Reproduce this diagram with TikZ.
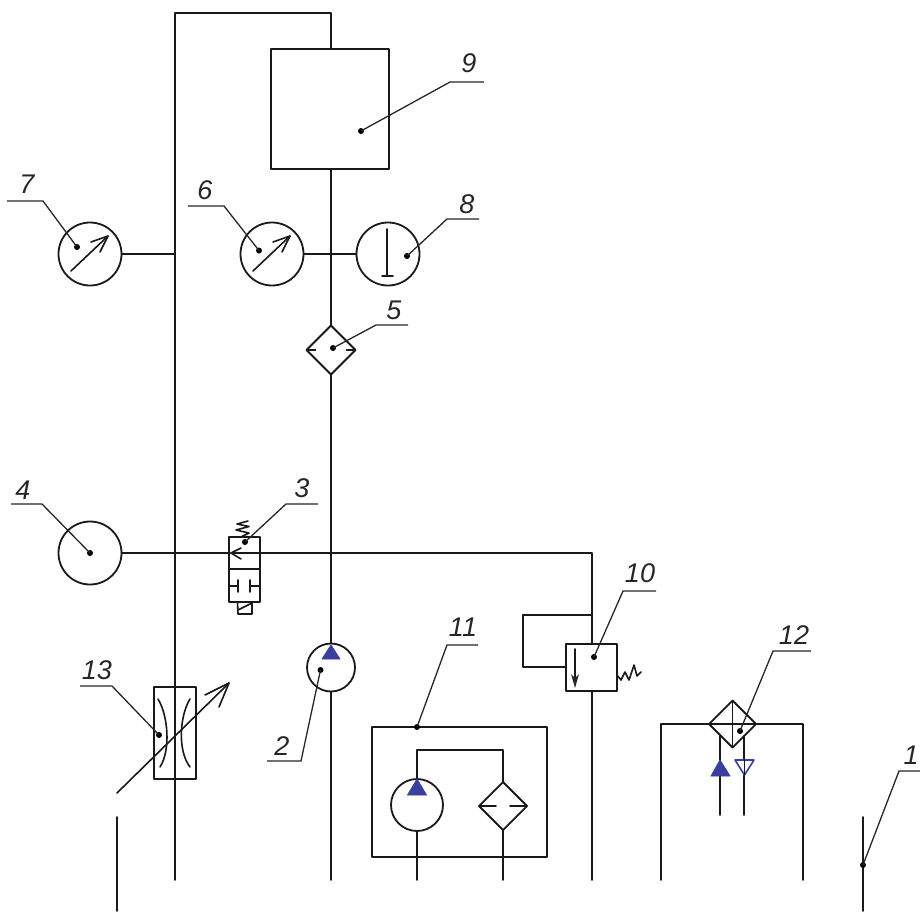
\documentclass[tikz,border=0pt]{standalone}
\usepackage{fontspec}
\setmainfont{Liberation Sans}
\usetikzlibrary{shapes.geometric,calc}
\definecolor{pumpblue}{HTML}{3A3F9E}
\tikzset{
  line/.style={draw=black!90,line width=1.8pt,line cap=round,line join=round},
  thinl/.style={draw=black!90,line width=1.6pt,line cap=round,line join=round},
  lead/.style={draw=black!85,line width=1.3pt},
  ring/.style={circle,line,minimum size=#1,inner sep=0pt,outer sep=0pt},
  diam/.style={diamond,line,aspect=1,minimum size=#1,inner sep=0pt,outer sep=0pt},
  rbox/.style={rectangle,line,inner sep=0pt,outer sep=0pt},
  blob/.style={circle,fill=black,minimum size=6pt,inner sep=0pt,outer sep=0pt},
  num/.style={font=\fontsize{27}{27}\selectfont\itshape,text=black!85,inner sep=0pt,anchor=center},
  tri/.style={fill=pumpblue,draw=pumpblue,line width=.8pt,line join=round},
  trio/.style={fill=white,draw=pumpblue,line width=1.6pt,line join=round}
}
\newcommand{\tag}[6]{%
  \node[blob] (d#1) at (#2) {};
  \coordinate (k#1) at (#3);
  \coordinate (e#1) at (#4);
  \draw[lead] (d#1.center) -- (k#1) -- (e#1);
  \node[num] (t#1) at (#5) {#6};}
\newcommand{\gaugearrow}[3]{%
  \coordinate (a#1) at (#2);
  \coordinate (b#1) at (#3);
  \draw[thinl] (a#1) -- (b#1);
  \draw[thinl] ($(b#1)+(-17,6)$) -- (b#1) -- ($(b#1)+(-8,16)$);}
\begin{document}
\begin{tikzpicture}[x=1pt,y=-1pt]
\useasboundingbox (0,0) rectangle (920,911);
% main elements
\node[rbox,minimum width=118pt,minimum height=120pt] (n9) at (330,109) {};
\node[ring=63pt] (n7) at (90,254) {};
\node[ring=63pt] (n6) at (272,254) {};
\node[ring=63pt] (n8) at (388,254) {};
\node[ring=63pt] (n4) at (90,553) {};
\node[diam=49pt] (n5) at (331,350) {};
\node[ring=48pt] (n2) at (331,667.5) {};
\node[rbox,minimum width=31pt,minimum height=65pt] (n3) at (244.5,569.5) {};
\node[rbox,minimum width=51pt,minimum height=47pt] (n10) at (591.5,667.5) {};
\node[rbox,minimum width=175pt,minimum height=130pt] (n11) at (459.5,792) {};
\node[ring=52pt] (p11) at (417,805) {};
\node[diam=48pt] (f11) at (503,806) {};
\node[diam=47pt] (n12) at (732.5,724) {};
\node[rbox,minimum width=42pt,minimum height=92pt] (n13) at (175,733) {};
% free ends and junctions
\coordinate (top1) at (175,13);
\coordinate (top2) at (331,13);
\coordinate (bL) at (175,880);
\coordinate (bM) at (331,880);
\coordinate (bR) at (592,880);
\coordinate (j7) at (175,254);
\coordinate (jl) at (175,553);
\coordinate (jr) at (592,553);
% pipes
\draw[line] (bL) -- (top1) -- (top2) -- (n9.north -| top2);
\draw[line] (n9.south -| top2) -- (n5.north);
\draw[line] (n5.south) -- (n2.north);
\draw[line] (n2.south) -- (bM);
\draw[line] (n7.east) -- (j7);
\draw[line] (n6.east) -- (n8.west);
\draw[line] (n4.east) -- (n3.west |- jl);
\draw[line] (n3.east |- jl) -- (jr) -- (n10.north -| jr);
\draw[line] (n10.south -| jr) -- (bR);
\draw[line] (592,615) -- (523,615) -- (523,667) -- (n10.west |- 0,667);
% gauges
\gaugearrow{7}{71,271}{108,236}
\gaugearrow{6}{253,271}{290,236}
\draw[thinl] (387,229) -- (387,276) (382,276) -- (393,276);
% filter 5
\draw[thinl] (n5.west) -- ++(9,0) (n5.east) -- ++(-9,0);
% pump 2
\fill[tri] (331,645) -- (340,659) -- (322,659) -- cycle;
% valve 3
\draw[thinl] (229,569) -- (260,569);
\draw[thinl] (241,548) -- (231,553) -- (241,559);
\draw[thinl] (231,553) -- (260,553);
\draw[thinl] (229,586) -- (238,586) (238,580) -- (238,592);
\draw[thinl] (260,586) -- (250,586) (250,580) -- (250,592);
\draw[thinl] (237.5,602) -- (238,614) -- (252,614) -- (252,602);
\draw[thinl] (238,610) -- (252,603);
\draw[thinl] (241,537) -- (249,533) -- (236,530) -- (249,526.5) -- (237,524) -- (248,521);
% valve 10
\draw[thinl] (575,649) -- (575,684);
\fill[black!85] (575,688) -- (571,674) -- (575,678) -- (579,674) -- cycle;
\draw[thinl] (617,675) -- (621,680) -- (625,672) -- (629,680) -- (634,665) -- (637,676) -- (641,672);
% group 11
\draw[line] (p11.north) -- (417,750) -- (503,750) -- (f11.north);
\fill[tri] (417,779) -- (426.5,795) -- (407.5,795) -- cycle;
\draw[line] (p11.south) -- (417,880);
\draw[line] (f11.south) -- (503,880);
\draw[thinl] (f11.west) -- ++(17,0) (f11.east) -- ++(-17,0);
% group 12
\coordinate (x12l) at (661,880);
\coordinate (x12r) at (803,880);
\draw[line] (x12l) -- (661,724) -- (n12.west);
\draw[line] (x12r) -- (803,724) -- (n12.east);
\draw[thinl] (n12.north) -- (n12.south) (n12.west) -- (n12.east);
\draw[line] (720,736) -- (720,760);
\draw[line] (720,775) -- (720,815);
\draw[line] (744,736) -- (744,760);
\draw[line] (744,775) -- (744,815);
\fill[tri] (720,760) -- (730,776) -- (711,776) -- cycle;
\draw[trio] (735,760) -- (754,760) -- (744.5,775) -- cycle;
\draw[thinl] (744.5,760) -- (744.5,775);
% throttle 13
\draw[thinl] (158,699) .. controls (168,715) and (171,750) .. (160,767);
\draw[thinl] (190,699) .. controls (180,715) and (177,750) .. (190,767);
\coordinate (a13) at (117,793);
\coordinate (b13) at (229,683);
\draw[thinl] (a13) -- (b13);
\draw[thinl] (205,695) -- (b13) -- (219,707);
% side ports
\coordinate (l1) at (117,817); \coordinate (l2) at (117,911);
\coordinate (r1) at (863,817); \coordinate (r2) at (863,911);
\draw[line] (l1) -- (l2);
\draw[line] (r1) -- (r2);
% leaders and labels
\tag{9}{361,131}{450,82}{484,82}{469,63}{9}
\tag{7}{77,247}{43,201}{7,201}{27,184}{7}
\tag{6}{259,250.5}{224,206}{188,206}{205,190}{6}
\tag{8}{407,256}{447,219}{479,219}{467,204}{8}
\tag{5}{333,348}{376,325}{408,325}{394,310}{5}
\tag{4}{90,553}{42,504}{11,504}{23,490}{4}
\tag{3}{245,542}{286,504}{318,504}{302,488}{3}
\tag{10}{594,657}{623,591}{656,591}{640,573}{10}
\tag{11}{417,727}{447,645}{478,645}{463,627}{11}
\tag{2}{320.5,670}{301,761}{267,761}{282,746}{2}
\tag{12}{740,731}{773,651}{811,651}{794,635}{12}
\tag{13}{159,735}{112,686}{80,686}{97,670}{13}
\tag{1}{863,865}{899,771}{920,771}{911,755}{1}
\end{tikzpicture}
\end{document}
